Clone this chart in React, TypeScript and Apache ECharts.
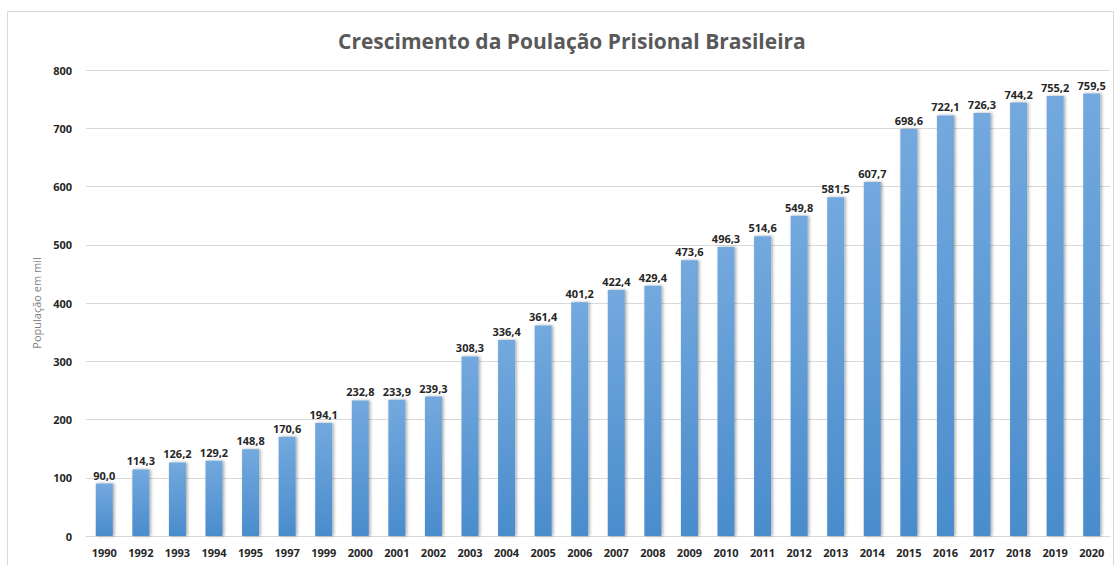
import React, { useEffect, useRef } from "react";
import * as echarts from "echarts";

const years = ["1990","1992","1993","1994","1995","1997","1999","2000","2001","2002","2003","2004","2005","2006","2007","2008","2009","2010","2011","2012","2013","2014","2015","2016","2017","2018","2019","2020"];
const population = [90.0,114.3,126.2,129.2,148.8,170.6,194.1,232.8,233.9,239.3,308.3,336.4,361.4,401.2,422.4,429.4,473.6,496.3,514.6,549.8,581.5,607.7,698.6,722.1,726.3,744.2,755.2,759.5];
const titleText = "Crescimento da Poulação Prisional Brasileira";
const yAxisName = "População em mil";

export default function App() {
  const ref = useRef<HTMLDivElement>(null);
  useEffect(() => {
    const chart = echarts.init(ref.current!, null, { renderer: "svg" });
    const font = "'Open Sans', 'Liberation Sans', sans-serif";
    chart.setOption({
      animation: false,
      backgroundColor: "#ffffff",
      title: {
        text: titleText,
        left: 333,
        top: 25,
        textStyle: { fontFamily: font, fontSize: 21, fontWeight: "bold", color: "#595959" },
      },
      graphic: [
        {
          type: "rect",
          shape: { x: 7.5, y: 11.5, width: 1106, height: 560 },
          style: { fill: "none", stroke: "#d9d9d9", lineWidth: 1 },
          silent: true,
        },
      ],
      grid: { left: 86, right: 6, top: 70, bottom: 29 },
      xAxis: {
        type: "category",
        data: years,
        axisTick: { show: false },
        axisLine: { lineStyle: { color: "#d9d9d9" } },
        axisLabel: { fontFamily: font, fontSize: 11, fontWeight: "bold", color: "#262626", margin: 11, interval: 0 },
      },
      yAxis: {
        type: "value",
        min: 0,
        max: 800,
        interval: 100,
        name: yAxisName,
        nameLocation: "middle",
        nameGap: 42,
        nameTextStyle: { fontFamily: font, fontSize: 11, color: "#7f7f7f" },
        axisLine: { show: false },
        axisTick: { show: false },
        splitLine: { lineStyle: { color: "#d9d9d9" } },
        axisLabel: { fontFamily: font, fontSize: 11, fontWeight: "bold", color: "#262626", margin: 14 },
      },
      series: [
        {
          type: "bar",
          data: population,
          barWidth: 17,
          itemStyle: {
            color: new echarts.graphic.LinearGradient(0, 0, 0, 1, [
              { offset: 0, color: "#73a9de" },
              { offset: 1, color: "#4a8ccc" },
            ]),
            shadowColor: "rgba(0,0,0,0.35)",
            shadowBlur: 3,
            shadowOffsetX: 1.5,
            shadowOffsetY: 0,
          },
          label: {
            show: true,
            position: "top",
            distance: 3,
            fontFamily: font,
            fontSize: 11,
            fontWeight: "bold",
            color: "#262626",
            formatter: (p: any) => p.value.toFixed(1).replace(".", ","),
          },
        },
      ],
    });
    return () => chart.dispose();
  }, []);
  return <div ref={ref} style={{ position: "fixed", left: 0, top: 0, width: 1116, height: 565 }} />;
}
